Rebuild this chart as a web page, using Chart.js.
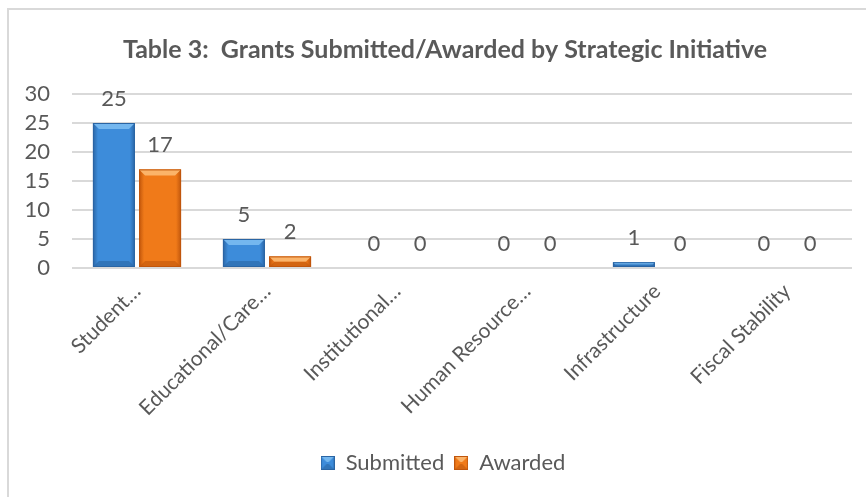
<!DOCTYPE html>
<html>
<head>
<meta charset="utf-8">
<script src="https://cdn.jsdelivr.net/npm/chart.js@4.4.1/dist/chart.umd.min.js"></script>
<style>
html,body{margin:0;padding:0;background:#fff;}
#wrap{position:relative;width:866px;height:497px;}
canvas{display:block;}
</style>
</head>
<body>
<div id="wrap"><canvas id="c" width="866" height="497"></canvas></div>
<script>
const chartTitle = "Table 3:  Grants Submitted/Awarded by Strategic Initiative";
const categories = ["Student\u2026", "Educational/Care\u2026", "Institutional\u2026", "Human Resource\u2026", "Infrastructure", "Fiscal Stability"];
const submitted = [25, 5, 0, 0, 1, 0];
const awarded = [17, 2, 0, 0, 0, 0];
const seriesNames = ["Submitted", "Awarded"];
const yTicks = [0, 5, 10, 15, 20, 25, 30];

const FONT = "Lato, 'Open Sans', sans-serif";
const TEXT = "#595959";
const BLUE = "#3d8cda", BLUE_D = "#2a65a4", BLUE_L = "#74b7ef";
const ORANGE = "#f07a19", ORANGE_D = "#c0560c", ORANGE_L = "#fbb46a";

function bevel(ctx, x, y, w, h, base, dark, light) {
  if (h <= 0) return;
  const g = ctx.createLinearGradient(x, 0, x + w, 0);
  g.addColorStop(0, dark);
  g.addColorStop(0.12, base);
  g.addColorStop(0.88, base);
  g.addColorStop(1, dark);
  ctx.fillStyle = g;
  ctx.fillRect(x, y, w, h);
  const b = Math.min(6, h / 2, w / 2);
  ctx.fillStyle = light;
  ctx.beginPath();
  ctx.moveTo(x, y); ctx.lineTo(x + w, y); ctx.lineTo(x + w - b, y + b); ctx.lineTo(x + b, y + b); ctx.closePath();
  ctx.fill();
  ctx.fillStyle = dark;
  ctx.globalAlpha = 0.6;
  ctx.beginPath();
  ctx.moveTo(x, y + h); ctx.lineTo(x + w, y + h); ctx.lineTo(x + w - b, y + h - b); ctx.lineTo(x + b, y + h - b); ctx.closePath();
  ctx.fill();
  ctx.globalAlpha = 1;
  ctx.strokeStyle = dark;
  ctx.lineWidth = 1;
  ctx.strokeRect(x + 0.5, y + 0.5, w - 1, h - 1);
}

const frame = {
  id: 'frame',
  afterLayout(chart) {
    if (chart.titleBlock) chart.titleBlock.left += 30;
    if (chart.legend) chart.legend.left += 26;
  },
  beforeDraw(chart) {
    const c = chart.ctx;
    c.save();
    c.fillStyle = '#fff';
    c.fillRect(0, 0, chart.width, chart.height);
    c.strokeStyle = '#d9d9d9';
    c.lineWidth = 2;
    c.strokeRect(8, 9, chart.width + 10, chart.height + 10);
    c.restore();
  }
};

const barsAndLabels = {
  id: 'barsAndLabels',
  afterDatasetsDraw(chart) {
    const c = chart.ctx;
    c.save();
    chart.data.datasets.forEach((ds, di) => {
      const meta = chart.getDatasetMeta(di);
      const cols = di === 0 ? [BLUE, BLUE_D, BLUE_L] : [ORANGE, ORANGE_D, ORANGE_L];
      meta.data.forEach((el, i) => {
        const p = el.getProps(['x', 'y', 'base', 'width'], true);
        const left = p.x - p.width / 2;
        const top = Math.min(p.y, p.base);
        const h = Math.abs(p.base - p.y);
        bevel(c, left, top, p.width, h, cols[0], cols[1], cols[2]);
        c.fillStyle = TEXT;
        c.font = "22px " + FONT;
        c.textAlign = 'center';
        c.textBaseline = 'middle';
        c.fillText(String(ds.data[i]), p.x, p.y - 24);
      });
    });
    c.restore();
  }
};

function legendBox(col, dark, light) {
  const cv = document.createElement('canvas');
  cv.width = 14; cv.height = 14;
  const x = cv.getContext('2d');
  bevel(x, 0, 0, 14, 14, col, dark, light);
  return cv;
}

const chart = new Chart(document.getElementById('c'), {
  type: 'bar',
  data: {
    labels: categories,
    datasets: [
      { label: seriesNames[0], data: submitted, backgroundColor: 'rgba(0,0,0,0)', borderWidth: 0 },
      { label: seriesNames[1], data: awarded, backgroundColor: 'rgba(0,0,0,0)', borderWidth: 0 }
    ]
  },
  options: {
    responsive: false,
    animation: false,
    devicePixelRatio: 1,
    layout: { padding: { left: 8, right: 14, top: 0, bottom: 13 } },
    datasets: { bar: { categoryPercentage: 0.71, barPercentage: 0.91 } },
    plugins: {
      title: {
        display: true,
        text: chartTitle,
        color: TEXT,
        font: { family: FONT, size: 25, weight: 'bold' },
        padding: { top: 35, bottom: 29 }
      },
      legend: {
        position: 'bottom',
        labels: {
          color: TEXT,
          font: { family: FONT, size: 22 },
          usePointStyle: true,
          boxHeight: 14,
          pointStyleWidth: 14,
          generateLabels(ch) {
            return ch.data.datasets.map((ds, i) => ({
              text: ds.label,
              fontColor: TEXT,
              pointStyle: i === 0 ? legendBox(BLUE, BLUE_D, BLUE_L) : legendBox(ORANGE, ORANGE_D, ORANGE_L),
              datasetIndex: i,
              hidden: false,
              lineWidth: 0
            }));
          },
          padding: 10
        }
      },
      tooltip: { enabled: false }
    },
    scales: {
      x: {
        grid: { display: false },
        border: { display: false },
        ticks: { color: TEXT, font: { family: FONT, size: 21 }, minRotation: 45, maxRotation: 45, autoSkip: false },
        afterFit(s) { s.height = 174; }
      },
      y: {
        min: 0, max: 30,
        afterBuildTicks(s) { s.ticks = yTicks.map(v => ({ value: v })); },
        grid: { color: '#d9d9d9', lineWidth: 2, drawTicks: false },
        border: { display: false },
        ticks: { color: TEXT, font: { family: FONT, size: 22 }, padding: 22, autoSkip: false },
        afterFit(s) { s.width = 64; }
      }
    }
  },
  plugins: [frame, barsAndLabels]
});
</script>
</body>
</html>
